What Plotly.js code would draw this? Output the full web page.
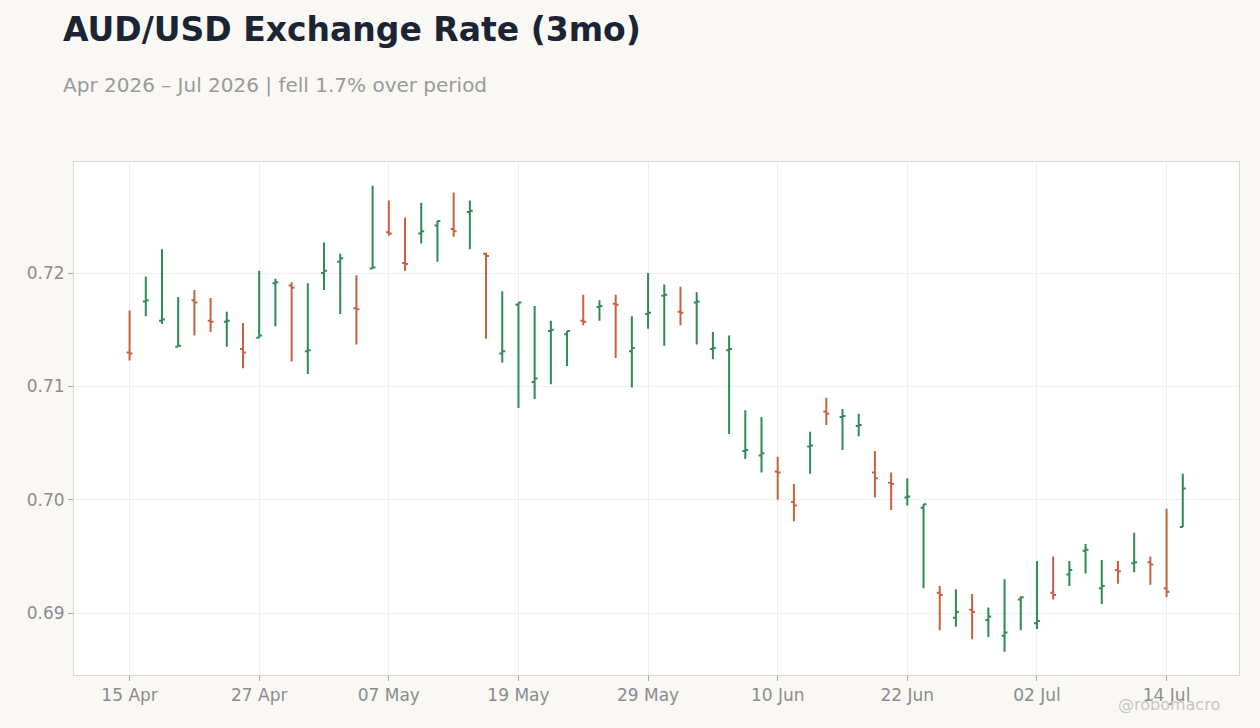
<!DOCTYPE html>
<html>
<head>
<meta charset="utf-8">
<script src="https://cdn.plot.ly/plotly-3.0.1.min.js"></script>
<style>
  html, body { margin: 0; padding: 0; background: #f9f8f5; }
  #chart { width: 1260px; height: 728px; }
</style>
</head>
<body>
<div id="chart"></div>
<script>
// trading days, 15 Apr - 15 Jul 2026
const dates = [
  "2026-04-15", "2026-04-16", "2026-04-17", "2026-04-20", "2026-04-21", "2026-04-22",
  "2026-04-23", "2026-04-24", "2026-04-27", "2026-04-28", "2026-04-29", "2026-04-30",
  "2026-05-01", "2026-05-04", "2026-05-05", "2026-05-06", "2026-05-07", "2026-05-08",
  "2026-05-11", "2026-05-12", "2026-05-13", "2026-05-14", "2026-05-15", "2026-05-18",
  "2026-05-19", "2026-05-20", "2026-05-21", "2026-05-22", "2026-05-25", "2026-05-26",
  "2026-05-27", "2026-05-28", "2026-05-29", "2026-06-01", "2026-06-02", "2026-06-03",
  "2026-06-04", "2026-06-05", "2026-06-08", "2026-06-09", "2026-06-10", "2026-06-11",
  "2026-06-12", "2026-06-15", "2026-06-16", "2026-06-17", "2026-06-18", "2026-06-19",
  "2026-06-22", "2026-06-23", "2026-06-24", "2026-06-25", "2026-06-26", "2026-06-29",
  "2026-06-30", "2026-07-01", "2026-07-02", "2026-07-03", "2026-07-06", "2026-07-07",
  "2026-07-08", "2026-07-09", "2026-07-10", "2026-07-13", "2026-07-14", "2026-07-15"
]

const openVals = [
  0.7130, 0.7175, 0.7158, 0.7135, 0.7176, 0.7158, 0.7157, 0.7133, 0.7143, 0.7191, 0.7189, 0.7131,
  0.7200, 0.7210, 0.7169, 0.7204, 0.7236, 0.7209, 0.7235, 0.7242, 0.7239, 0.7254, 0.7217, 0.7129,
  0.7172, 0.7104, 0.7149, 0.7146, 0.7158, 0.7170, 0.7173, 0.7131, 0.7164, 0.7180, 0.7166, 0.7174,
  0.7133, 0.7132, 0.7043, 0.7039, 0.7025, 0.6998, 0.7047, 0.7078, 0.7073, 0.7065, 0.7024, 0.7015,
  0.7002, 0.6993, 0.6918, 0.6896, 0.6903, 0.6894, 0.6880, 0.6912, 0.6891, 0.6918, 0.6934, 0.6955,
  0.6922, 0.6938, 0.6944, 0.6945, 0.6922, 0.6976
]
const highVals = [
  0.7167, 0.7197, 0.7221, 0.7179, 0.7185, 0.7178, 0.7166, 0.7156, 0.7202, 0.7195, 0.7192, 0.7191,
  0.7227, 0.7217, 0.7198, 0.7277, 0.7264, 0.7249, 0.7262, 0.7246, 0.7271, 0.7264, 0.7218, 0.7184,
  0.7174, 0.7171, 0.7158, 0.7149, 0.7181, 0.7176, 0.7181, 0.7162, 0.7200, 0.7190, 0.7188, 0.7183,
  0.7148, 0.7145, 0.7079, 0.7073, 0.7038, 0.7014, 0.7060, 0.7090, 0.7080, 0.7076, 0.7043, 0.7024,
  0.7019, 0.6996, 0.6924, 0.6921, 0.6917, 0.6905, 0.6930, 0.6915, 0.6946, 0.6950, 0.6946, 0.6961,
  0.6947, 0.6946, 0.6971, 0.6950, 0.6992, 0.7023
]
const lowVals = [
  0.7123, 0.7162, 0.7155, 0.7135, 0.7145, 0.7148, 0.7135, 0.7116, 0.7143, 0.7153, 0.7122, 0.7111,
  0.7185, 0.7164, 0.7137, 0.7204, 0.7233, 0.7202, 0.7226, 0.7210, 0.7232, 0.7221, 0.7142, 0.7121,
  0.7081, 0.7089, 0.7102, 0.7118, 0.7154, 0.7158, 0.7125, 0.7099, 0.7151, 0.7136, 0.7154, 0.7137,
  0.7124, 0.7058, 0.7036, 0.7024, 0.7000, 0.6981, 0.7023, 0.7066, 0.7044, 0.7056, 0.7002, 0.6991,
  0.6995, 0.6922, 0.6885, 0.6888, 0.6877, 0.6879, 0.6866, 0.6885, 0.6886, 0.6912, 0.6924, 0.6935,
  0.6908, 0.6926, 0.6936, 0.6925, 0.6914, 0.6976
]
const closeVals = [
  0.7129, 0.7176, 0.7159, 0.7136, 0.7174, 0.7157, 0.7158, 0.7130, 0.7145, 0.7192, 0.7187, 0.7132,
  0.7202, 0.7213, 0.7168, 0.7205, 0.7235, 0.7208, 0.7237, 0.7246, 0.7237, 0.7255, 0.7215, 0.7131,
  0.7174, 0.7107, 0.7150, 0.7149, 0.7157, 0.7171, 0.7172, 0.7134, 0.7165, 0.7181, 0.7165, 0.7175,
  0.7134, 0.7133, 0.7044, 0.7041, 0.7024, 0.6995, 0.7048, 0.7076, 0.7074, 0.7066, 0.7019, 0.7014,
  0.7003, 0.6996, 0.6916, 0.6901, 0.6901, 0.6897, 0.6883, 0.6914, 0.6893, 0.6916, 0.6938, 0.6956,
  0.6924, 0.6937, 0.6945, 0.6943, 0.6919, 0.7010
]

const monthNames = ["Jan", "Feb", "Mar", "Apr", "May", "Jun", "Jul", "Aug", "Sep", "Oct", "Nov", "Dec"]
const tickEvery = 8

function shortLabel(d) {
  const parts = d.split("-")
  return parts[2] + " " + monthNames[parseInt(parts[1], 10) - 1]
}

const tickDates = dates.filter((d, i) => i % tickEvery === 0)
const tickLabels = tickDates.map(shortLabel)

const axisFont = { family: "DejaVu Sans, sans-serif", size: 17, color: "#8c8c8c" }

const trace = {
  type: "ohlc",
  x: dates,
  open: openVals,
  high: highVals,
  low: lowVals,
  close: closeVals,
  tickwidth: 0.18,
  increasing: { line: { color: "#2e8b57", width: 2 } },
  decreasing: { line: { color: "#c8613e", width: 2 } },
  hoverinfo: "skip",
  showlegend: false
}

const layout = {
  width: 1260,
  height: 728,
  margin: { l: 74, r: 21, t: 162, b: 53 },
  paper_bgcolor: "#f9f8f5",
  plot_bgcolor: "#ffffff",
  font: { family: "DejaVu Sans, sans-serif" },
  title: {
    text: "AUD/USD Exchange Rate (3mo)",
    font: { family: "DejaVu Sans, sans-serif", size: 33, color: "#1b2433", weight: "bold" },
    xref: "container",
    yref: "container",
    x: 63 / 1260,
    xanchor: "left",
    y: 1 - 29 / 728,
    yanchor: "middle"
  },
  xaxis: {
    type: "category",
    range: [-3.43, 68.47],
    rangeslider: { visible: false },
    tickvals: tickDates,
    ticktext: tickLabels,
    tickfont: axisFont,
    ticks: "outside",
    ticklen: 5,
    tickcolor: "#a8a8a8",
    showgrid: true,
    gridcolor: "#efefef",
    showline: true,
    linecolor: "#ddd8d0",
    linewidth: 1,
    mirror: true,
    zeroline: false
  },
  yaxis: {
    range: [0.684545, 0.7298],
    dtick: 0.01,
    tickformat: ".2f",
    tickfont: axisFont,
    ticks: "outside",
    ticklen: 5,
    tickcolor: "#a8a8a8",
    showgrid: true,
    gridcolor: "#efefef",
    showline: true,
    linecolor: "#ddd8d0",
    linewidth: 1,
    mirror: true,
    zeroline: false
  },
  annotations: [
    {
      text: "Apr 2026 – Jul 2026 | fell 1.7% over period",
      xref: "paper", yref: "paper",
      x: 0, y: 1,
      xshift: -13, yshift: 77,
      xanchor: "left", yanchor: "middle",
      showarrow: false,
      font: { family: "DejaVu Sans, sans-serif", size: 20, color: "#9a9a9a" }
    },
    {
      // sits under the last tick label, as in the source
      text: "@robomacro",
      xref: "paper", yref: "paper",
      x: 1, y: 0,
      xshift: -17, yshift: -29,
      xanchor: "right", yanchor: "middle",
      showarrow: false,
      font: { family: "DejaVu Sans, sans-serif", size: 16, color: "#c6c6c6" }
    }
  ]
}

const config = { displayModeBar: false, responsive: false }

Plotly.newPlot("chart", [trace], layout, config)
</script>
</body>
</html>
